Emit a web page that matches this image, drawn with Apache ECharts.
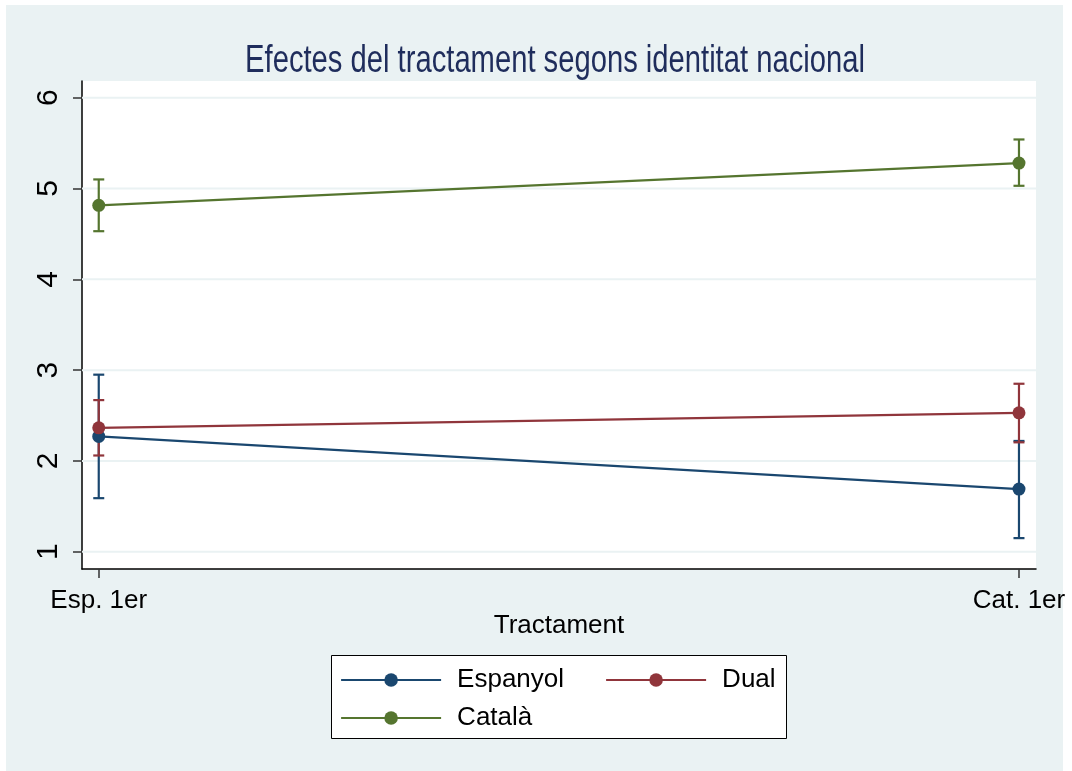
<!DOCTYPE html>
<html>
<head>
<meta charset="utf-8">
<script src="https://cdn.jsdelivr.net/npm/echarts@6/dist/echarts.min.js"></script>
<style>html,body{margin:0;padding:0;background:#fff}#c{width:1072px;height:771px}</style>
</head>
<body>
<div id="c"></div>
<script>
const categories = ['Esp. 1er', 'Cat. 1er'];
const yTicks = [1, 2, 3, 4, 5, 6];
const seriesNames = ['Espanyol', 'Dual', 'Català'];
const espanyol = [2.27, 1.69];
const espanyolLo = [1.59, 1.15];
const espanyolHi = [2.95, 2.22];
const dual = [2.365, 2.53];
const dualLo = [2.06, 2.205];
const dualHi = [2.67, 2.85];
const catala = [4.815, 5.28];
const catalaLo = [4.53, 5.03];
const catalaHi = [5.10, 5.54];
const titleText = 'Efectes del tractament segons identitat nacional';
const xTitle = 'Tractament';

const colors = ['#1A476F', '#90353B', '#55752F'];
const FONT = "'Liberation Sans', Arial, sans-serif";

const means = [espanyol, dual, catala];
const los = [espanyolLo, dualLo, catalaLo];
const his = [espanyolHi, dualHi, catalaHi];

const chart = echarts.init(document.getElementById('c'), null, {renderer: 'canvas'});

const series = [];
// gridlines
series.push({
  type: 'custom', name: 'grid', silent: true, z: 1,
  data: yTicks.map(v => [v]),
  encode: {y: 0},
  renderItem: function (params, api) {
    const y = api.coord([0, api.value(0)])[1];
    const cs = params.coordSys;
    return {type: 'line', shape: {x1: cs.x, y1: y, x2: cs.x + cs.width, y2: y},
      style: {stroke: '#EAF2F3', lineWidth: 2}};
  }
});
// error bars
for (let s = 0; s < 3; s++) {
  series.push({
    type: 'custom', name: seriesNames[s] + ' CI', silent: true, z: 3,
    data: categories.map((c, i) => [i, los[s][i], his[s][i]]),
    encode: {x: 0, y: [1, 2]},
    renderItem: function (params, api) {
      const lo = api.coord([api.value(0), api.value(1)]);
      const hi = api.coord([api.value(0), api.value(2)]);
      const hw = 5.5;
      const st = {stroke: colors[s], lineWidth: 2.2};
      return {type: 'group', children: [
        {type: 'line', shape: {x1: lo[0], y1: lo[1], x2: hi[0], y2: hi[1]}, style: st},
        {type: 'line', shape: {x1: lo[0] - hw, y1: lo[1], x2: lo[0] + hw, y2: lo[1]}, style: st},
        {type: 'line', shape: {x1: hi[0] - hw, y1: hi[1], x2: hi[0] + hw, y2: hi[1]}, style: st}
      ]};
    }
  });
}
for (let s = 0; s < 3; s++) {
  series.push({
    type: 'line', name: seriesNames[s], z: 4,
    data: means[s].map((v, i) => [i, v]),
    symbol: 'circle', symbolSize: 13,
    lineStyle: {color: colors[s], width: 2.2},
    itemStyle: {color: colors[s]},
    emphasis: {disabled: true},
    animation: false
  });
}

function legendFor(name, left, top) {
  return {
    data: [name], left: left, top: top, padding: 0,
    itemWidth: 100, itemHeight: 17,
    lineStyle: {width: 2.2},
    textStyle: {fontFamily: FONT, fontSize: 26, color: '#000', padding: [0, 0, 0, 11]},
    selectedMode: false
  };
}

const option = {
  backgroundColor: '#ffffff',
  animation: false,
  graphic: [
    {type: 'rect', z: -100, shape: {x: 6, y: 5, width: 1057, height: 766}, style: {fill: '#EAF2F3'}},
    {type: 'rect', z: 1, shape: {x: 331.5, y: 655.5, width: 455, height: 83}, style: {fill: '#fff', stroke: '#000', lineWidth: 1}},
    {type: 'text', z: 10, x: 555, y: 61.5, scaleX: 1, scaleY: 1.31,
      style: {text: titleText, fontFamily: FONT, fontSize: 29.2, fill: '#1F2D5C', textAlign: 'center', textVerticalAlign: 'middle'}}
  ],
  legend: [
    legendFor('Espanyol', 340, 667),
    legendFor('Dual', 605, 667),
    legendFor('Català', 340, 705)
  ],
  grid: {left: 82, top: 81, right: 36, bottom: 202, show: true, backgroundColor: '#fff', borderWidth: 0},
  xAxis: {
    type: 'value', min: -0.0182, max: 1.0185,
    name: xTitle, nameLocation: 'middle', nameGap: 44, nameMoveOverlap: false,
    nameTextStyle: {fontFamily: FONT, fontSize: 26, color: '#000'},
    axisLine: {show: true, onZero: false, lineStyle: {color: '#000', width: 1.5}},
    axisTick: {show: true, customValues: [0, 1], length: 9, lineStyle: {color: '#333', width: 1.5}},
    axisLabel: {customValues: [0, 1], margin: 19, fontFamily: FONT, fontSize: 26, color: '#000',
      formatter: v => categories[Math.round(v)]},
    splitLine: {show: false}
  },
  yAxis: {
    type: 'value', min: 0.81, max: 6.184,
    axisLine: {show: true, onZero: false, lineStyle: {color: '#000', width: 1.5}},
    axisTick: {show: true, customValues: yTicks, length: 9, lineStyle: {color: '#333', width: 1.5}},
    axisLabel: {customValues: yTicks, rotate: 90, margin: 18, fontFamily: FONT, fontSize: 30, color: '#000'},
    splitLine: {show: false}
  },
  series: series
};
chart.setOption(option);
</script>
</body>
</html>
